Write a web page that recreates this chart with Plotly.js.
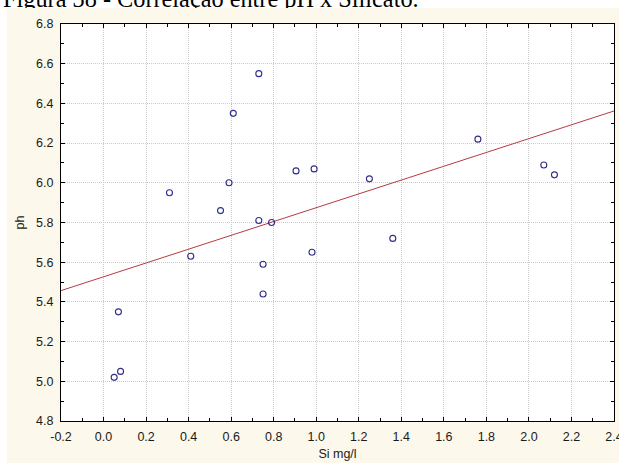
<!DOCTYPE html>
<html>
<head>
<meta charset="utf-8">
<script src="https://cdn.plot.ly/plotly-3.0.1.min.js"></script>
<style>
  html, body { margin: 0; padding: 0; background: #ffffff; width: 619px; height: 463px; overflow: hidden; }
  #caption { position: absolute; left: 3px; top: -13.5px; font-family: "Liberation Serif", "Times New Roman", serif; font-size: 24.3px; line-height: 1; color: #000; white-space: nowrap; z-index: 1; }
  #chart { position: absolute; left: 7px; top: 8px; width: 612px; height: 455px; z-index: 2; }
</style>
</head>
<body>
<div id="caption">Figura 38 - Correlação entre pH x Silicato.</div>
<div id="chart"></div>
<script>
// Data
const siValues = [0.05, 0.08, 0.07, 0.31, 0.41, 0.55, 0.59, 0.61, 0.73, 0.73, 0.75, 0.75, 0.79, 0.905, 0.99, 0.98, 1.25, 1.36, 1.76, 2.07, 2.12];
const phValues = [5.02, 5.05, 5.35, 5.95, 5.63, 5.86, 6.00, 6.35, 6.55, 5.81, 5.59, 5.44, 5.80, 6.06, 6.07, 5.65, 6.02, 5.72, 6.22, 6.09, 6.04];

const xTickValues = [-0.2, 0.0, 0.2, 0.4, 0.6, 0.8, 1.0, 1.2, 1.4, 1.6, 1.8, 2.0, 2.2, 2.4];
const xTickLabels = ['-0.2', '0.0', '0.2', '0.4', '0.6', '0.8', '1.0', '1.2', '1.4', '1.6', '1.8', '2.0', '2.2', '2.4'];
const yTickValues = [4.8, 5.0, 5.2, 5.4, 5.6, 5.8, 6.0, 6.2, 6.4, 6.6, 6.8];
const yTickLabels = ['4.8', '5.0', '5.2', '5.4', '5.6', '5.8', '6.0', '6.2', '6.4', '6.6', '6.8'];

const xRange = [-0.2, 2.4];
const yRange = [4.8, 6.8];

// least-squares fit computed from the data
const n = siValues.length;
const mx = siValues.reduce((a, b) => a + b, 0) / n;
const my = phValues.reduce((a, b) => a + b, 0) / n;
let sxy = 0, sxx = 0;
for (let i = 0; i < n; i++) {
  sxy += (siValues[i] - mx) * (phValues[i] - my);
  sxx += (siValues[i] - mx) * (siValues[i] - mx);
}
const slope = sxy / sxx;
const intercept = my - slope * mx;
const fitX = [xRange[0], xRange[1]];
const fitY = fitX.map(x => intercept + slope * x);

const tickFont = { family: 'Liberation Sans, Arial, sans-serif', size: 12.5, color: '#1a1a1a' };

const traces = [
  {
    x: fitX, y: fitY, type: 'scatter', mode: 'lines',
    line: { color: '#b83a40', width: 1 }, hoverinfo: 'skip', showlegend: false
  },
  {
    x: siValues, y: phValues, type: 'scatter', mode: 'markers',
    marker: { symbol: 'circle-open', size: 6, color: '#2e2e8a', line: { width: 1.1, color: '#2e2e8a' } },
    showlegend: false
  }
];

const axisCommon = {
  showline: true, linecolor: '#000', linewidth: 1, mirror: 'ticks',
  ticks: 'inside', ticklen: 4, tickcolor: '#000', tickwidth: 1,
  showgrid: true, gridcolor: '#cacaca', gridwidth: 1, griddash: '1px,1px',
  zeroline: false, tickfont: tickFont, tickmode: 'array',
  ticklabeloverflow: 'allow'
};

const layout = {
  width: 612, height: 455,
  margin: { l: 54, r: 5, t: 16, b: 42 },
  paper_bgcolor: '#fcf8ec',
  plot_bgcolor: '#ffffff',
  showlegend: false,
  xaxis: Object.assign({}, axisCommon, {
    range: xRange, tickvals: xTickValues, ticktext: xTickLabels,
    minor: { tickmode: 'linear', tick0: -0.2, dtick: 0.1, ticks: 'inside', ticklen: 3, tickcolor: '#000', showgrid: false },
    ticklabelstandoff: 4,
    title: { text: 'Si mg/l', font: { family: 'Liberation Sans, Arial, sans-serif', size: 12.5, color: '#1a1a1a' }, standoff: 6 }
  }),
  yaxis: Object.assign({}, axisCommon, {
    range: yRange, tickvals: yTickValues, ticktext: yTickLabels,
    minor: { tickmode: 'linear', tick0: 4.8, dtick: 0.1, ticks: 'inside', ticklen: 3, tickcolor: '#000', showgrid: false },
    ticklabelstandoff: 4,
    title: { text: 'ph', font: { family: 'Liberation Sans, Arial, sans-serif', size: 12.5, color: '#1a1a1a' }, standoff: 8 }
  })
};

Plotly.newPlot('chart', traces, layout, { staticPlot: true, displayModeBar: false });
</script>
</body>
</html>
